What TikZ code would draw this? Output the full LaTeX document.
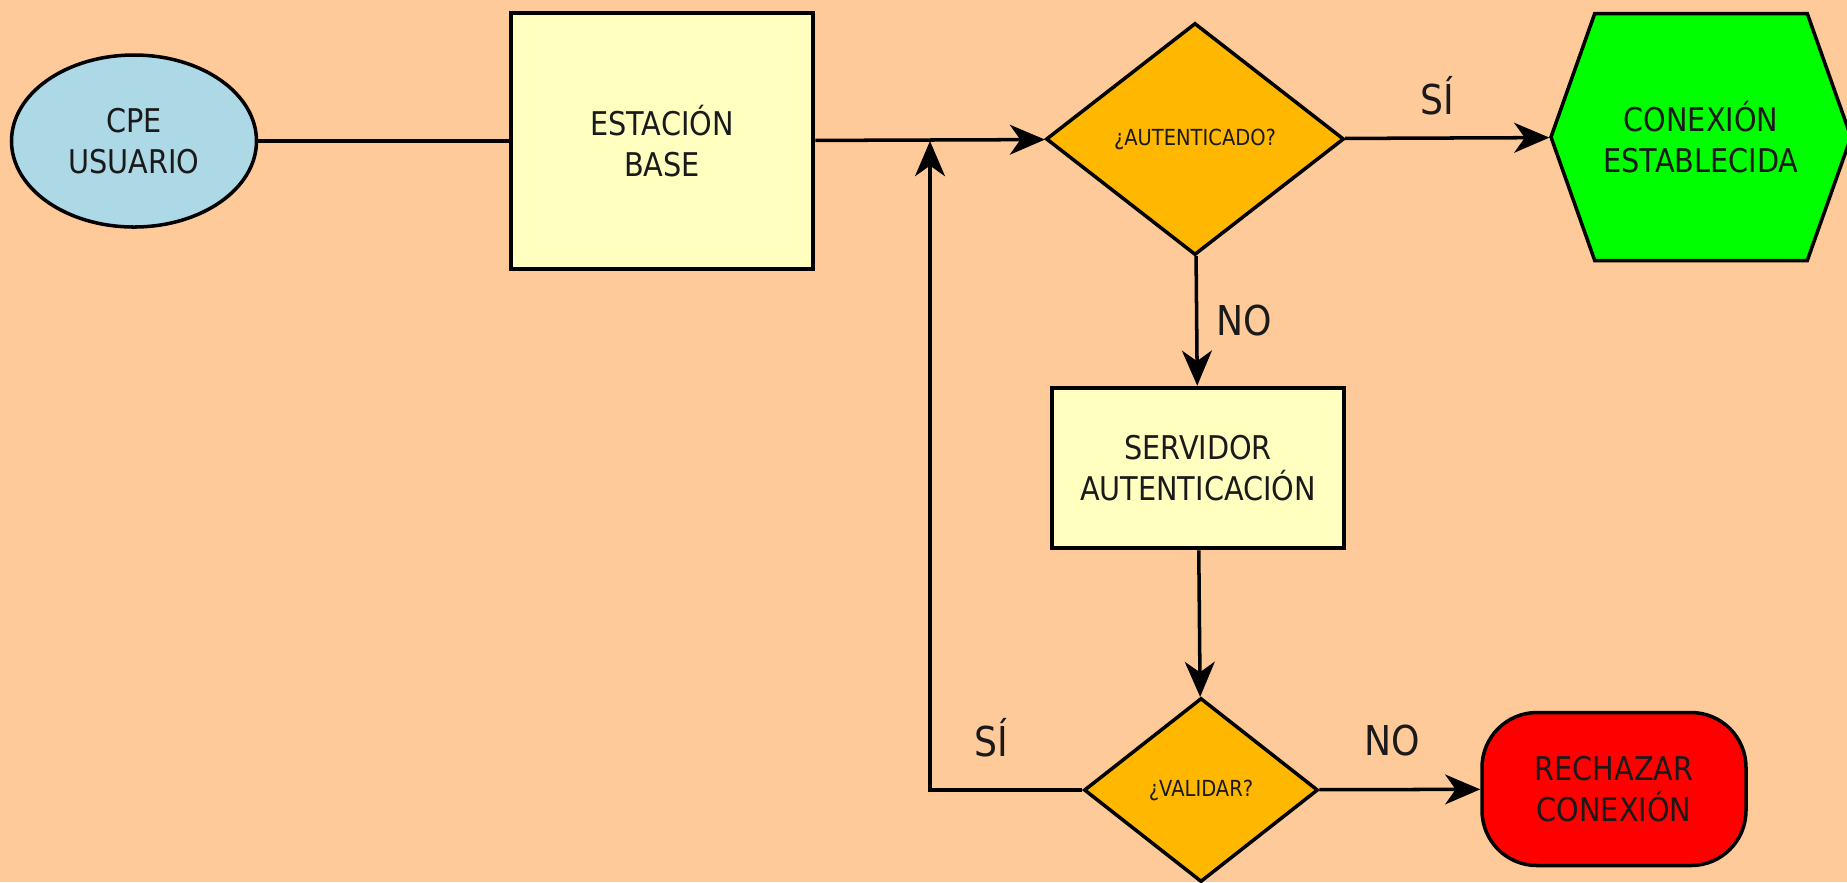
\documentclass[tikz,border=0pt]{standalone}
\usepackage{fontspec}
\setmainfont[FakeStretch=0.88]{DejaVu Sans}
\usetikzlibrary{arrows.meta,positioning,shapes.geometric,shapes.symbols}
\definecolor{bgpeach}{HTML}{FFCA99}
\definecolor{boxblue}{HTML}{ADD8E6}
\definecolor{boxyellow}{HTML}{FFFFC0}
\definecolor{decorange}{HTML}{FFB700}
\definecolor{okgreen}{HTML}{00FF00}
\definecolor{badred}{HTML}{FF0000}
\definecolor{inkgray}{HTML}{1A1A1A}

\begin{document}
\begin{tikzpicture}[>={Stealth[length=10pt, width=8.5pt, inset=3pt]}, line width=1pt,
 term/.style={draw, ellipse, minimum width=2.45cm, minimum height=1.72cm, fill=boxblue, inner sep=0pt, align=center, text=inkgray, font=\fontsize{9.3}{11.7}\selectfont},
 proc/.style={draw, rectangle, line width=1.3pt, fill=boxyellow, inner sep=0pt, align=center, text=inkgray, font=\fontsize{9.3}{11.7}\selectfont},
 dec/.style={draw, diamond, fill=decorange, inner sep=0pt, text=inkgray, font=\fontsize{6.3}{7.5}\selectfont},
 fin/.style={draw, signal, signal to=west and east, signal pointer angle=141, minimum width=3.0cm, minimum height=2.47cm, fill=okgreen, inner sep=0pt, align=center, text=inkgray, font=\fontsize{9.3}{11.7}\selectfont},
 rej/.style={draw, rectangle, rounded corners=0.55cm, minimum width=2.64cm, minimum height=1.53cm, fill=badred, inner sep=0pt, align=center, text=inkgray, font=\fontsize{9.3}{11.7}\selectfont},
 lab/.style={font=\fontsize{11.7}{14}\selectfont, text=inkgray, inner sep=1pt}]
\useasboundingbox (0,0) rectangle (18.47,-8.82);
\fill[bgpeach] (0,0) rectangle (18.47,-8.82);
\node[term] (cpe) at (1.34,-1.41) {CPE\\USUARIO};
\node[proc, minimum width=3.02cm, minimum height=2.56cm] (base) at (6.62,-1.41) {ESTACIÓN\\BASE};
\node[dec, minimum width=2.98cm, minimum height=2.32cm] (aut) at (11.95,-1.39) {¿AUTENTICADO?};
\node[fin] (con) at (17.01,-1.37) {CONEXIÓN\\ESTABLECIDA};
\node[proc, minimum width=2.92cm, minimum height=1.60cm] (ser) at (11.98,-4.68) {SERVIDOR\\AUTENTICACIÓN};
\node[dec, minimum width=2.34cm, minimum height=1.84cm] (val) at (12.01,-7.90) {¿VALIDAR?};
\node[rej] (rech) at (16.14,-7.89) {RECHAZAR\\CONEXIÓN};
\coordinate (merge) at (9.30,-1.41);
\draw (cpe) -- (base);
\draw[->] (base) -- (aut);
\draw[->] (aut) -- node[lab, above=5pt, pos=0.45]{SÍ} (con);
\draw[->] (aut) -- node[lab, right=4pt, pos=0.5]{NO} (ser);
\draw[->] (ser) -- (val);
\draw[->] (val.west) -| node[lab, above=8pt, pos=0.3]{SÍ} (merge);
\draw[->] (val) -- node[lab, above=8pt, pos=0.45]{NO} (rech);
\end{tikzpicture}
\end{document}
